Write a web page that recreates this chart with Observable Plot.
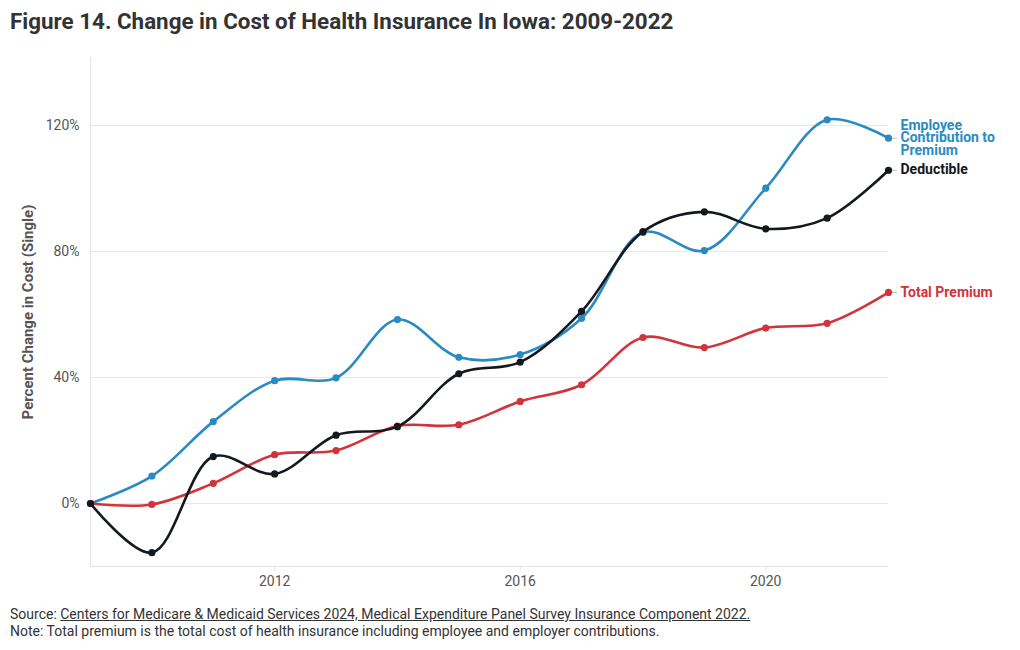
<!DOCTYPE html>
<html>
<head>
<meta charset="utf-8">
<script src="https://cdn.jsdelivr.net/npm/d3@7"></script>
<script src="https://cdn.jsdelivr.net/npm/@observablehq/plot@0.6"></script>
<style>
  body { margin: 0; background: #fff; font-family: Roboto, "Noto Sans", sans-serif; width: 1020px; height: 650px; position: relative; overflow: hidden; }
  #title { position: absolute; left: 10px; top: 8px; font-size: 22.4px; font-weight: 700; color: #333; white-space: nowrap; }
  #chart { position: absolute; left: 0; top: 45px; }
  #caption { position: absolute; left: 10px; top: 606px; font-size: 14px; color: #333; line-height: 17px; }
  #caption a { color: #333; text-decoration: underline; }
</style>
</head>
<body>
<div id="title">Figure 14. Change in Cost of Health Insurance In Iowa: 2009-2022</div>
<div id="chart"></div>
<div id="caption">
  <div>Source: <a>Centers for Medicare &amp; Medicaid Services 2024, Medical Expenditure Panel Survey Insurance Component 2022.</a></div>
  <div>Note: Total premium is the total cost of health insurance including employee and employer contributions.</div>
</div>
<script>
const years = [2009, 2010, 2011, 2012, 2013, 2014, 2015, 2016, 2017, 2018, 2019, 2020, 2021, 2022];
const employeeContribution = [0, 8.7, 26.0, 39.0, 39.9, 58.4, 46.4, 47.3, 58.8, 86.1, 80.3, 100.1, 121.8, 116.0];
const totalPremium = [0, -0.3, 6.4, 15.5, 16.8, 24.6, 25.0, 32.4, 37.7, 52.7, 49.5, 55.7, 57.2, 67.0];
const deductible = [0, -15.6, 14.9, 9.4, 21.7, 24.4, 41.2, 44.9, 61.0, 86.3, 92.6, 87.2, 90.6, 105.8];

const seriesNames = ["Employee Contribution to Premium", "Total Premium", "Deductible"];
const seriesLabels = ["Employee\nContribution to\nPremium", "Total Premium", "Deductible"];
const seriesColors = ["#2a8bc2", "#d1343a", "#14181f"];
const seriesValues = [employeeContribution, totalPremium, deductible];

const yTicks = [0, 40, 80, 120];
const xTicks = [2012, 2016, 2020];
const yTitle = "Percent Change in Cost (Single)";

const data = seriesNames.flatMap((s, i) => years.map((yr, j) => ({series: s, year: yr, value: seriesValues[i][j]})));
const last = seriesNames.map((s, i) => ({series: s, label: seriesLabels[i], year: years[years.length - 1], value: seriesValues[i][years.length - 1]}));

const colorScale = {domain: seriesNames, range: seriesColors};

const marks = [
  Plot.gridY(yTicks, {stroke: "#e8e8e8", strokeOpacity: 1}),
  Plot.ruleX([years[0]], {stroke: "#e4e4e4"}),
  Plot.ruleY([-20], {stroke: "#e4e4e4"}),
  Plot.axisY({ticks: yTicks, tickSize: 0, tickPadding: 11, tickFormat: d => d + "%", fill: "#555", fontSize: 14, label: null}),
  Plot.axisX({ticks: xTicks, tickSize: 5, tickPadding: 5, tickFormat: d => String(d), fill: "#555", stroke: "#e4e4e4", fontSize: 14, label: null}),
  Plot.text([yTitle], {frameAnchor: "left", rotate: -90, dx: -62, text: d => d, fill: "#555", fontWeight: 700, fontSize: 15, textAnchor: "middle"})
];
seriesNames.forEach((s) => {
  const d = data.filter(e => e.series === s);
  marks.push(Plot.line(d, {x: "year", y: "value", stroke: "series", strokeWidth: 2.6, curve: "catmull-rom"}));
  marks.push(Plot.dot(d, {x: "year", y: "value", fill: "series", r: 3.6}));
});
marks.push(Plot.ruleY(last, {y: "value", x1: "year", x2: "year", insetLeft: 4, insetRight: -9, stroke: "#bbb", strokeWidth: 1}));
marks.push(Plot.text(last, {x: "year", y: "value", text: "label", fill: "series", dx: 12, textAnchor: "start", fontWeight: 700, fontSize: 14, lineHeight: 0.9}));

const chart = Plot.plot({
  width: 1020,
  height: 555,
  marginLeft: 90,
  marginRight: 132,
  marginTop: 12,
  marginBottom: 34,
  style: {fontFamily: "Roboto, sans-serif", background: "#fff", overflow: "visible"},
  x: {domain: [2009, 2022]},
  y: {domain: [-20, 141.6]},
  color: colorScale,
  marks
});
document.getElementById("chart").appendChild(chart);
</script>
</body>
</html>
